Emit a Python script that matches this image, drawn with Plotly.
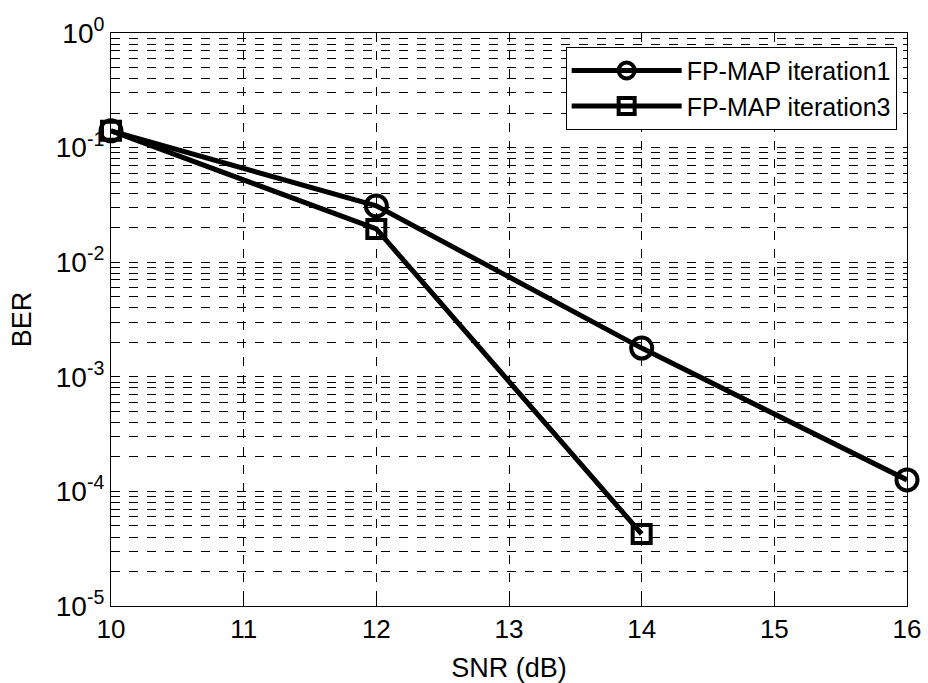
import plotly.graph_objects as go

snr1 = [10, 12, 14, 16]
ber1 = [0.14, 0.031, 1.78e-3, 1.26e-4]
snr3 = [10, 12, 14]
ber3 = [0.14, 0.0195, 4.25e-5]
names = ["FP-MAP iteration1", "FP-MAP iteration3"]
ytick_vals = [1e-5, 1e-4, 1e-3, 1e-2, 1e-1, 1]
ytick_exp = ["-5", "-4", "-3", "-2", "-1", "0"]
xtick_vals = [10, 11, 12, 13, 14, 15, 16]

font = "Liberation Sans, Arial, sans-serif"
ytick_text = ["10<sup>%s</sup>" % e for e in ytick_exp]

fig = go.Figure()
fig.add_trace(go.Scatter(x=snr1, y=ber1, name=names[0], mode="lines+markers",
                         line=dict(color="black", width=5),
                         marker=dict(symbol="circle-open", size=21, color="black", line=dict(width=4)),
                         cliponaxis=False))
fig.add_trace(go.Scatter(x=snr3, y=ber3, name=names[1], mode="lines+markers",
                         line=dict(color="black", width=5),
                         marker=dict(symbol="square-open", size=18, color="black", line=dict(width=4)),
                         cliponaxis=False))

fig.update_layout(
    width=928, height=683,
    margin=dict(l=111, r=21, t=33, b=77, autoexpand=False),
    plot_bgcolor="white", paper_bgcolor="white",
    font=dict(family=font, color="black", size=20),
    legend=dict(x=0.987, y=0.976, xanchor="right", yanchor="top",
                bordercolor="black", borderwidth=1, bgcolor="white",
                font=dict(size=25, family=font), itemwidth=110, tracegroupgap=0),
    showlegend=True,
)
fig.update_xaxes(range=[10, 16], tickvals=xtick_vals, showline=True, linecolor="black", linewidth=1,
                 mirror=True, showgrid=True, gridcolor="black", gridwidth=1, griddash="dash",
                 ticks="inside", ticklen=6, tickcolor="black", zeroline=False, automargin=False,
                 title=dict(text="SNR (dB)", font=dict(size=27), standoff=16),
                 tickfont=dict(size=26))
fig.update_yaxes(type="log", range=[-5, 0], tickvals=ytick_vals, ticktext=ytick_text,
                 showline=True, linecolor="black", linewidth=1, mirror=True,
                 showgrid=True, gridcolor="black", gridwidth=1, griddash="dash",
                 ticks="inside", ticklen=6, tickcolor="black", zeroline=False, automargin=False,
                 minor=dict(dtick="D1", showgrid=True, gridcolor="black", gridwidth=1, griddash="dash", ticks=""),
                 title=dict(text="BER", font=dict(size=27), standoff=16),
                 tickfont=dict(size=28))

fig.write_html("out.html", config={"displayModeBar": False},
               post_script="document.body.style.margin='0';document.body.style.padding='0';")
